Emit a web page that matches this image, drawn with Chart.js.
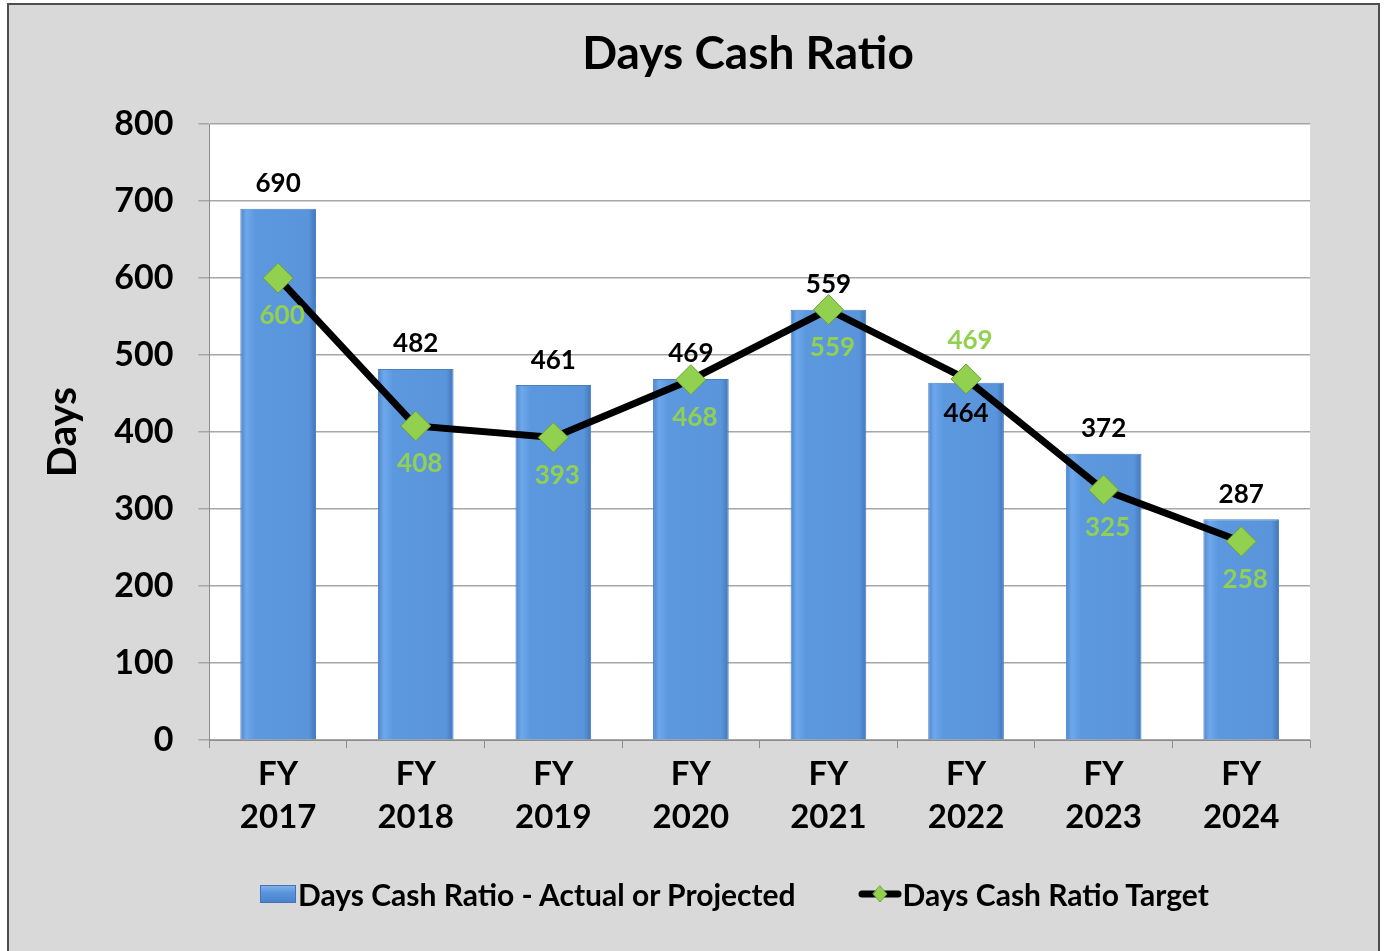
<!DOCTYPE html>
<html>
<head>
<meta charset="UTF-8">
<script src="https://cdn.jsdelivr.net/npm/chart.js@4.4.1/dist/chart.umd.min.js"></script>
<style>
    body { margin:0; background:#fff; font-family:Lato, "Noto Sans", sans-serif; }
    #frame { position:absolute; left:7px; top:3px; width:1373px; height:960px; background:#d9d9d9; border:2px solid #4d4d4d; box-sizing:border-box; }
    #wrap { position:absolute; left:0; top:0; width:1384px; height:951px; }
    #title { position:absolute; left:348px; width:800px; top:26px; text-align:center; font:bold 46px Lato; color:#000; line-height:52px; }
    #legend { position:absolute; left:260px; top:876px; display:flex; align-items:center; font:bold 30px Lato; color:#000; line-height:36px; }
    .box { width:36px; height:18px; background:linear-gradient(#7fb2ee,#5a95dc 40%,#4a83cc); border:1px solid #3f74b8; box-sizing:border-box; margin-right:2px; }
    .lineIcon { position:relative; width:44px; height:20px; margin-left:62px; margin-right:1px; }
</style>
</head>
<body>
<div id="frame"></div>
<div id="wrap"><canvas id="chart"></canvas></div>
<div id="title">Days Cash Ratio</div>
<div id="legend">
    <span class="box"></span><span>Days Cash Ratio - Actual or Projected</span>
    <canvas class="lineIcon" id="lineIcon" width="44" height="20"></canvas><span>Days Cash Ratio Target</span>
</div>
<script>
    // values
    const categories = [["FY","2017"],["FY","2018"],["FY","2019"],["FY","2020"],["FY","2021"],["FY","2022"],["FY","2023"],["FY","2024"]];
    const actualValues = [690, 482, 461, 469, 559, 464, 372, 287];
    const targetValues = [600, 408, 393, 468, 559, 469, 325, 258];
    const yTicks = [0, 100, 200, 300, 400, 500, 600, 700, 800];

    const green = '#92d050';
    const barPct = 0.55;

    // legend line icon
    (function() {
        var c = document.getElementById('lineIcon').getContext('2d');
        c.strokeStyle = '#000'; c.lineWidth = 7; c.lineCap = 'round';
        c.beginPath(); c.moveTo(4, 10); c.lineTo(40, 10); c.stroke();
        c.fillStyle = green; c.strokeStyle = '#6f9f3a'; c.lineWidth = 1;
        c.beginPath(); c.moveTo(22, 2); c.lineTo(29, 10); c.lineTo(22, 18); c.lineTo(15, 10); c.closePath();
        c.fill(); c.stroke();
    })();

    function barFill(ctx) {
        var chart = ctx.chart;
        var area = chart.chartArea;
        if (!area || !chart.scales.x) return '#5a95dc';
        var cx = chart.scales.x.getPixelForValue(ctx.dataIndex);
        var hw = area.width / categories.length * barPct / 2;
        var g = chart.ctx.createLinearGradient(cx - hw, 0, cx + hw, 0);
        g.addColorStop(0, '#4d84cb');
        g.addColorStop(0.08, '#6ea8ec');
        g.addColorStop(0.2, '#5c98de');
        g.addColorStop(0.9, '#5a95db');
        g.addColorStop(1, '#4276ba');
        return g;
    }

    const plotBg = {
        id: 'plotBg',
        beforeDraw(chart) {
            var a = chart.chartArea, c = chart.ctx;
            c.save(); c.fillStyle = '#ffffff';
            c.fillRect(a.left, a.top, a.width, a.height);
            c.restore();
        }
    };

    const valueLabels = {
        id: 'valueLabels',
        afterDatasetsDraw(chart) {
            var c = chart.ctx;
            var bars = chart.getDatasetMeta(0).data;
            var pts = chart.getDatasetMeta(1).data;
            c.save();
            c.font = 'bold 26px Lato';
            c.textAlign = 'center';
            c.textBaseline = 'middle';
            for (var i = 0; i < bars.length; i++) {
                var b = bars[i], p = pts[i];
                var swap = targetValues[i] > actualValues[i];
                c.fillStyle = '#000';
                c.fillText(String(actualValues[i]), b.x, swap ? p.y + 35 : b.y - 25);
                c.fillStyle = green;
                c.fillText(String(targetValues[i]), p.x + 4, swap ? p.y - 38 : p.y + 38);
            }
            c.restore();
        }
    };

    new Chart(document.getElementById('chart'), {
        type: 'bar',
        data: {
            labels: categories,
            datasets: [{
                label: 'Days Cash Ratio - Actual or Projected',
                data: actualValues,
                backgroundColor: barFill,
                borderColor: '#4a7fc0',
                borderWidth: 1,
                barPercentage: barPct,
                categoryPercentage: 1,
                order: 2
            }, {
                type: 'line',
                label: 'Days Cash Ratio Target',
                data: targetValues,
                borderColor: '#000',
                borderWidth: 7,
                pointStyle: 'rectRot',
                pointRadius: 15,
                pointHoverRadius: 15,
                pointBackgroundColor: green,
                pointBorderColor: '#6f9f3a',
                pointBorderWidth: 1,
                order: 1
            }]
        },
        options: {
            responsive: true,
            maintainAspectRatio: false,
            animation: false,
            layout: { padding: { left: 38, right: 74, top: 124, bottom: 107 } },
            plugins: { legend: { display: false }, tooltip: { enabled: false } },
            scales: {
                x: {
                    grid: { drawOnChartArea: false, color: '#8c8c8c', tickLength: 8, offset: true },
                    border: { color: '#8c8c8c', width: 1 },
                    ticks: { color: '#000', font: { family: 'Lato', size: 33, weight: 'bold', lineHeight: 1.3 }, padding: 5, maxRotation: 0 }
                },
                y: {
                    min: 0, max: 800,
                    afterBuildTicks(axis) { axis.ticks = yTicks.map(v => ({ value: v })); },
                    grid: { color: '#a6a6a6', tickLength: 11, lineWidth: 1.5 },
                    border: { color: '#8c8c8c', width: 1 },
                    ticks: { color: '#000', font: { family: 'Lato', size: 34, weight: 'bold' }, padding: 25 },
                    title: { display: true, text: 'Days', color: '#000', font: { family: 'Lato', size: 41, weight: 'bold', lineHeight: 1.2 }, padding: { top: 0, bottom: 2 } }
                }
            }
        },
        plugins: [plotBg, valueLabels]
    });
</script>
</body>
</html>
